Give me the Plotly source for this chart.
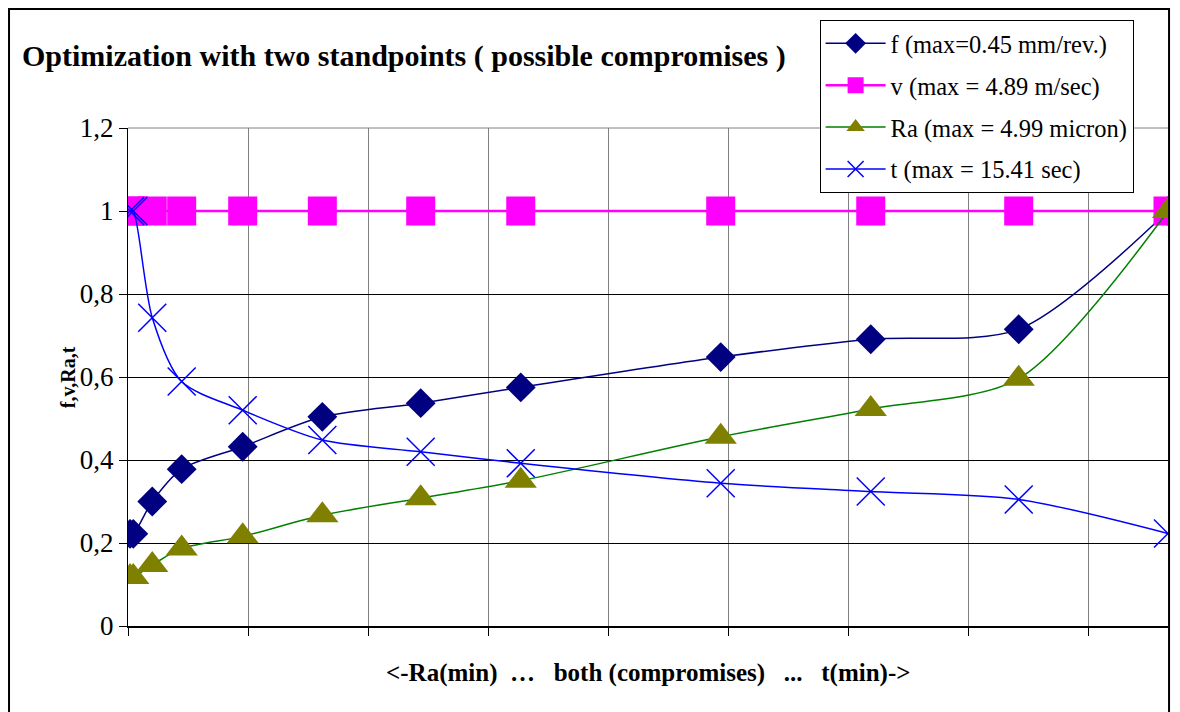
import plotly.graph_objects as go

# position along the compromise axis (axis units: one gridline step = 1)
x_pos = [0.017, 0.044, 0.202, 0.447, 0.955, 1.618, 2.437, 3.270, 4.935, 6.184, 7.416, 8.659]

f_vals = [0.222, 0.222, 0.300, 0.378, 0.432, 0.504, 0.537, 0.575, 0.648, 0.691, 0.715, 1.0]
v_vals = [1.0, 1.0, 1.0, 1.0, 1.0, 1.0, 1.0, 1.0, 1.0, 1.0, 1.0, 1.0]
ra_vals = [0.118, 0.118, 0.147, 0.187, 0.216, 0.267, 0.308, 0.350, 0.456, 0.523, 0.596, 1.0]
t_vals = [1.0, 1.0, 0.743, 0.589, 0.520, 0.448, 0.420, 0.392, 0.344, 0.324, 0.305, 0.223]

names = ["f (max=0.45 mm/rev.)", "v (max = 4.89 m/sec)",
         "Ra (max = 4.99 micron)", "t (max = 15.41 sec)"]

y_ticks = [0, 0.2, 0.4, 0.6, 0.8, 1.0, 1.2]
y_ticktext = ["0", "0,2", "0,4", "0,6", "0,8", "1", "1,2"]

title = "Optimization with two standpoints ( possible compromises )"
x_title = "<-Ra(min)  \u2026   both (compromises)   ...   t(min)->"
y_title = "f,v,Ra,t"

FONT = "Liberation Serif, Times New Roman, Tinos, DejaVu Serif, serif"

fig = go.Figure()
fig.add_trace(go.Scatter(
    x=x_pos, y=f_vals, name=names[0], mode="lines+markers", legendgroup="a",
    line=dict(color="#000080", width=1.5, shape="spline", smoothing=0.8),
    marker=dict(symbol="diamond", size=23, color="#000080")))
fig.add_trace(go.Scatter(
    x=x_pos, y=v_vals, name=names[1], mode="lines+markers", legendgroup="b",
    line=dict(color="#FF00FF", width=2.5),
    marker=dict(symbol="square", size=29, color="#FF00FF")))
fig.add_trace(go.Scatter(
    x=x_pos, y=ra_vals, name=names[2], mode="lines+markers", legendgroup="c",
    line=dict(color="#008000", width=1.5, shape="spline", smoothing=0.8),
    marker=dict(symbol="triangle-up", size=28, color="#808000")))
fig.add_trace(go.Scatter(
    x=x_pos, y=t_vals, name=names[3], mode="lines+markers", legendgroup="d",
    line=dict(color="#0000FF", width=1.5, shape="spline", smoothing=0.8),
    marker=dict(symbol="x-thin-open", size=28, color="#0000FF",
                line=dict(color="#0000FF", width=1.5))))

# the page body adds an 8px offset, so the figure is 8px smaller than the window
fig.update_layout(
    width=1172, height=704,
    margin=dict(l=120, r=12, t=120, b=86),
    paper_bgcolor="white", plot_bgcolor="white",
    font=dict(family=FONT, color="black", size=20),
    title=dict(text="<b>" + title + "</b>", x=14 / 1172, xref="container", xanchor="left",
               y=1 - 47 / 704, yref="container", yanchor="middle",
               font=dict(family=FONT, size=30, color="black")),
    legend=dict(x=0.665, y=1.217, xanchor="left", yanchor="top",
                bgcolor="white", bordercolor="black", borderwidth=1,
                font=dict(family=FONT, size=24.5, color="black"),
                tracegroupgap=7, itemwidth=60),
    showlegend=True,
)

fig.update_xaxes(range=[0, 8.659], dtick=1, tick0=0, showticklabels=False,
                 showgrid=True, gridcolor="#808080", gridwidth=1,
                 ticks="outside", ticklen=8, tickcolor="black",
                 showline=True, linecolor="black", linewidth=2, zeroline=False)
fig.update_yaxes(range=[0, 1.2], tickvals=y_ticks, ticktext=y_ticktext,
                 showgrid=True, gridcolor="black", gridwidth=1,
                 ticks="outside", ticklen=8, tickcolor="black",
                 showline=True, linecolor="black", linewidth=1, zeroline=False,
                 tickfont=dict(family=FONT, size=27, color="black"))

# plot area top border (grey) and outer chart frame
fig.add_shape(type="line", xref="paper", yref="paper", x0=0, x1=1, y0=1, y1=1,
              line=dict(color="#808080", width=1))
fig.add_shape(type="rect", xref="paper", yref="paper",
              x0=-0.1144, x1=1.001, y0=-0.25, y1=1.239,
              line=dict(color="black", width=2), fillcolor="rgba(0,0,0,0)")

fig.add_annotation(text="<b>" + y_title + "</b>", xref="paper", yref="paper",
                   x=-0.070, y=0.5, textangle=-90, showarrow=False,
                   font=dict(family=FONT, size=20, color="black"))
fig.add_annotation(text="<b>" + x_title + "</b>", xref="paper", yref="paper",
                   x=0.5, y=-0.094, showarrow=False, xanchor="center", yanchor="middle",
                   font=dict(family=FONT, size=25, color="black"))

fig.write_html("out.html")
